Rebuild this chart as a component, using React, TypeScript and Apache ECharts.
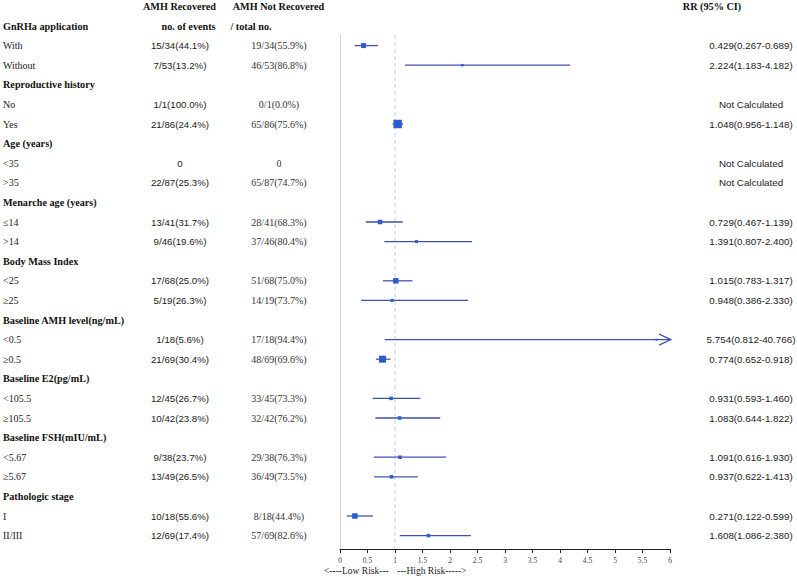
import React, { useEffect, useRef } from "react";
import * as echarts from "echarts";

const groupNames = [
  "GnRHa application",
  "Reproductive history",
  "Age (years)",
  "Menarche age (years)",
  "Body Mass Index",
  "Baseline AMH level(ng/mL)",
  "Baseline E2(pg/mL)",
  "Baseline FSH(mIU/mL)",
  "Pathologic stage",
];
const subgroupLabels = [
  "With", "Without", "No", "Yes", "<35", ">35", "≤14", ">14", "<25", "≥25",
  "<0.5", "≥0.5", "<105.5", "≥105.5", "<5.67", "≥5.67", "I", "II/III",
];
const recoveredText = [
  "15/34(44.1%)", "7/53(13.2%)", "1/1(100.0%)", "21/86(24.4%)", "0", "22/87(25.3%)",
  "13/41(31.7%)", "9/46(19.6%)", "17/68(25.0%)", "5/19(26.3%)", "1/18(5.6%)", "21/69(30.4%)",
  "12/45(26.7%)", "10/42(23.8%)", "9/38(23.7%)", "13/49(26.5%)", "10/18(55.6%)", "12/69(17.4%)",
];
const notRecoveredText = [
  "19/34(55.9%)", "46/53(86.8%)", "0/1(0.0%)", "65/86(75.6%)", "0", "65/87(74.7%)",
  "28/41(68.3%)", "37/46(80.4%)", "51/68(75.0%)", "14/19(73.7%)", "17/18(94.4%)", "48/69(69.6%)",
  "33/45(73.3%)", "32/42(76.2%)", "29/38(76.3%)", "36/49(73.5%)", "8/18(44.4%)", "57/69(82.6%)",
];
const rrValues = [0.429, 2.224, null, 1.048, null, null, 0.729, 1.391, 1.015, 0.948, 5.754, 0.774, 0.931, 1.083, 1.091, 0.937, 0.271, 1.608];
const ciLower = [0.267, 1.183, null, 0.956, null, null, 0.467, 0.807, 0.783, 0.386, 0.812, 0.652, 0.593, 0.644, 0.616, 0.622, 0.122, 1.086];
const ciUpper = [0.689, 4.182, null, 1.148, null, null, 1.139, 2.4, 1.317, 2.33, 40.766, 0.918, 1.46, 1.822, 1.93, 1.413, 0.599, 2.38];
const boxSizes = [5, 2.5, null, 8.5, null, null, 4.5, 3, 5.5, 3, 2, 7, 3.5, 3.5, 3.5, 3.5, 5.5, 3.5];

const X_MIN = 0;
const X_MAX = 6;
const X_INTERVAL = 0.5;

const headerLeft = ["AMH Recovered", "AMH Not Recovered"];
const headerSub = ["no. of events", "/ total no."];
const headerRR = "RR (95% CI)";
const riskLow = "<----Low Risk---";
const riskHigh = "---High Risk----->";

// layout constants
const W = 797;
const H = 577;
const ROW0_Y = 26;
const ROW_H = 19.6;
const PLOT_TOP = 35;
const AXIS_Y = 549;
const SERIF = "Liberation Serif";
const SANS = "Liberation Sans";

const rowOfSub = (j: number) => Math.floor(j / 2) * 3 + 1 + (j % 2);
const rowOfGroup = (g: number) => g * 3;

const rrLabel = (j: number) =>
  rrValues[j] == null
    ? "Not Calculated"
    : `${(rrValues[j] as number).toFixed(3)}(${(ciLower[j] as number).toFixed(3)}-${(ciUpper[j] as number).toFixed(3)})`;

type TxtStyle = { family: string; size: number; weight: string; color: string; align: string };

export default function App() {
  const ref = useRef<HTMLDivElement>(null);

  useEffect(() => {
    if (!ref.current) return;
    const chart = echarts.init(ref.current, undefined, { renderer: "svg" });

    const y0Min = (PLOT_TOP - ROW0_Y) / ROW_H;
    const yMax = (AXIS_Y - ROW0_Y) / ROW_H;
    const y1Min = (0 - ROW0_Y) / ROW_H;

    const textSeries = (name: string, xPos: number, rows: number[], texts: string[], s: TxtStyle) => ({
      type: "custom",
      name,
      xAxisIndex: 1,
      yAxisIndex: 1,
      silent: true,
      clip: false,
      data: rows.map((r) => [xPos, r]),
      renderItem: (params: any, api: any) => {
        const p = api.coord([api.value(0), api.value(1)]);
        return {
          type: "text",
          x: p[0],
          y: p[1],
          style: {
            text: texts[params.dataIndex],
            fontFamily: s.family,
            fontSize: s.size,
            fontWeight: s.weight,
            align: s.align,
            verticalAlign: "middle",
            fill: s.color,
          },
        };
      },
    });

    const headStyle = (align = "center"): TxtStyle => ({ family: SERIF, size: 10.2, weight: "bold", color: "#111", align });

    const subRows = subgroupLabels.map((_, j) => rowOfSub(j));
    const groupRows = groupNames.map((_, g) => rowOfGroup(g));

    const forestData: number[][] = [];
    rrValues.forEach((v, j) => {
      if (v == null) return;
      forestData.push([rowOfSub(j), v, ciLower[j] as number, ciUpper[j] as number, boxSizes[j] as number]);
    });

    const option: any = {
      animation: false,
      grid: [
        { left: 340, width: 330, top: PLOT_TOP, height: AXIS_Y - PLOT_TOP, containLabel: false },
        { left: 0, width: W, top: 0, height: AXIS_Y, containLabel: false },
      ],
      xAxis: [
        {
          type: "value",
          gridIndex: 0,
          min: X_MIN,
          max: X_MAX,
          interval: X_INTERVAL,
          axisLine: { show: true, lineStyle: { color: "#222", width: 1 } },
          axisTick: { show: true, length: 4, lineStyle: { color: "#222" } },
          axisLabel: { fontSize: 7.5, fontFamily: SERIF, color: "#444", margin: 7 },
          splitLine: { show: false },
        },
        { type: "value", gridIndex: 1, min: 0, max: W, show: false },
      ],
      yAxis: [
        {
          type: "value",
          gridIndex: 0,
          min: y0Min,
          max: yMax,
          inverse: true,
          axisLine: { show: true, lineStyle: { color: "#d2d2d2", width: 1 } },
          axisTick: { show: false },
          axisLabel: { show: false },
          splitLine: { show: false },
        },
        { type: "value", gridIndex: 1, min: y1Min, max: yMax, inverse: true, show: false },
      ],
      graphic: [
        {
          type: "text",
          left: 324,
          top: 566,
          style: { text: riskLow, fontFamily: SERIF, fontSize: 9.5, fill: "#222" },
        },
        {
          type: "text",
          left: 397,
          top: 566,
          style: { text: riskHigh, fontFamily: SERIF, fontSize: 9.5, fill: "#222" },
        },
      ],
      series: [
        {
          type: "line",
          xAxisIndex: 0,
          yAxisIndex: 0,
          silent: true,
          symbol: "none",
          data: [
            [1, y0Min],
            [1, yMax],
          ],
          lineStyle: { color: "#c8cde2", width: 1, type: [4, 3] },
          z: 1,
        },
        {
          type: "custom",
          xAxisIndex: 0,
          yAxisIndex: 0,
          silent: true,
          clip: false,
          z: 3,
          data: forestData,
          renderItem: (params: any, api: any) => {
            const row = api.value(0);
            const rr = api.value(1);
            const lo = api.value(2);
            const hi = api.value(3);
            const size = api.value(4);
            const pLo = api.coord([Math.max(lo, X_MIN), row]);
            const pHi = api.coord([Math.min(hi, X_MAX), row]);
            const pC = api.coord([rr, row]);
            const children: any[] = [
              {
                type: "line",
                shape: { x1: pLo[0], y1: pLo[1], x2: pHi[0], y2: pHi[1] },
                style: { stroke: "#3f52b3", lineWidth: 1.3 },
              },
              {
                type: "rect",
                shape: { x: pC[0] - size / 2, y: pC[1] - size / 2, width: size, height: size },
                style: { fill: "#2d5cd2" },
              },
            ];
            if (hi > X_MAX) {
              children.push({
                type: "polyline",
                shape: {
                  points: [
                    [pHi[0] - 11, pHi[1] - 5.5],
                    [pHi[0] + 1, pHi[1]],
                    [pHi[0] - 11, pHi[1] + 5.5],
                  ],
                },
                style: { stroke: "#3f52b3", lineWidth: 1.2, fill: "none" },
              });
            }
            return { type: "group", children };
          },
        },
        // table texts
        textSeries("groups", 3, groupRows, groupNames, headStyle("left")),
        textSeries("subgroups", 3, subRows, subgroupLabels, { family: SERIF, size: 10, weight: "normal", color: "#222", align: "left" }),
        textSeries("recovered", 180, subRows, recoveredText, { family: SANS, size: 9.7, weight: "normal", color: "#222", align: "center" }),
        textSeries("notRecovered", 279, subRows, notRecoveredText, { family: SERIF, size: 10, weight: "normal", color: "#333", align: "center" }),
        textSeries("rr", 751, subRows, subgroupLabels.map((_, j) => rrLabel(j)), { family: SANS, size: 9.8, weight: "normal", color: "#222", align: "center" }),
        textSeries("hdr1", 179.5, [-1], [headerLeft[0]], headStyle()),
        textSeries("hdr2", 278.5, [-1], [headerLeft[1]], headStyle()),
        textSeries("hdr3", 712, [-1], [headerRR], headStyle()),
        textSeries("hdr4", 188.5, [0], [headerSub[0]], headStyle()),
        textSeries("hdr5", 251, [0], [headerSub[1]], headStyle()),
      ],
    };

    chart.setOption(option);
    return () => chart.dispose();
  }, []);

  return (
    <div
      ref={ref}
      style={{ position: "fixed", left: 0, top: 0, width: W, height: H, background: "#fff" }}
    />
  );
}
